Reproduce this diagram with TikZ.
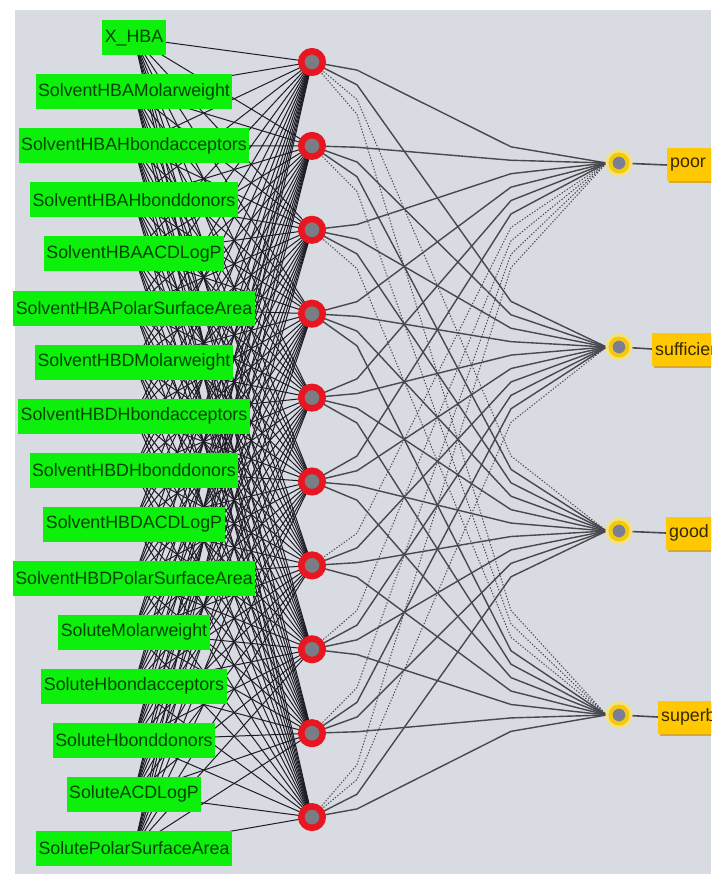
\documentclass[tikz,border=0pt]{standalone}
\usepackage{fontspec}
\setmainfont{Liberation Sans}
\definecolor{bgc}{RGB}{217,219,226}
\definecolor{ingreen}{RGB}{12,240,12}
\definecolor{intext}{RGB}{0,66,0}
\definecolor{hidred}{RGB}{232,22,32}
\definecolor{hidgray}{RGB}{122,126,132}
\definecolor{outyel}{RGB}{245,200,10}
\definecolor{outglow}{RGB}{242,226,130}
\definecolor{outgray}{RGB}{122,128,148}
\definecolor{outbox}{RGB}{255,200,0}
\definecolor{outshadow}{RGB}{215,170,40}
\definecolor{outtext}{RGB}{55,40,0}
\definecolor{ihcol}{RGB}{30,28,36}
\definecolor{hocol}{RGB}{72,72,78}
\pgfdeclarelayer{bglayer}
\pgfdeclarelayer{edges}
\pgfsetlayers{bglayer,edges,main}
\newcommand\holine[3]{%
  \pgfmathsetmacro\yh{62+83.9*(#2-1)}%
  \pgfmathsetmacro\yo{163+184*(#3-1)}%
  \pgfmathsetmacro\ya{\yh+0.08*(\yo-\yh)}%
  \pgfmathsetmacro\yb{\yh+0.84*(\yo-\yh)}%
  \draw[#1] (h#2.center) -- (357,\ya) -- (511,\yb) -- (o#3.west);%
}
\begin{document}
\begin{tikzpicture}[x=1pt,y=-1pt,
  inbox/.style={fill=ingreen, text=intext, font=\fontsize{17.8}{18}\selectfont,
    minimum height=35pt, inner xsep=2.5pt, inner ysep=0pt},
  hid/.style={circle, fill=hidgray, draw=hidred, line width=6.5pt,
    minimum size=21.5pt, inner sep=0pt, outer sep=3pt},
  outn/.style={circle, fill=outgray, draw=outyel, line width=4pt,
    preaction={draw=outglow, line width=10pt},
    minimum size=17pt, inner sep=0pt, outer sep=4pt},
  outlab/.style={fill=outbox, text=outtext, font=\fontsize{17.8}{18}\selectfont,
    minimum height=33pt, text width=90pt, align=left, inner xsep=3pt,
    inner ysep=0pt, anchor=west,
    preaction={fill=outshadow, transform canvas={shift={(1.5pt,-2pt)}}}},
  ihe/.style={draw=ihcol, line width=1pt},
  hoe/.style={draw=hocol, line width=1.4pt},
  hod/.style={draw=hocol, line width=1pt, dash pattern=on 1.3pt off 1.7pt},
  oconn/.style={draw=hocol, line width=1.6pt}]
\useasboundingbox (0,0) rectangle (711,874);
\clip (0,0) rectangle (711,874);
\begin{pgfonlayer}{bglayer}
\fill[bgc] (15,10) rectangle (711,874);
\end{pgfonlayer}
% input nodes
\foreach \lab [count=\i] in {X\_HBA, SolventHBAMolarweight, SolventHBAHbondacceptors,
  SolventHBAHbonddonors, SolventHBAACDLogP, SolventHBAPolarSurfaceArea,
  SolventHBDMolarweight, SolventHBDHbondacceptors, SolventHBDHbonddonors,
  SolventHBDACDLogP, SolventHBDPolarSurfaceArea, SoluteMolarweight,
  SoluteHbondacceptors, SoluteHbonddonors, SoluteACDLogP, SolutePolarSurfaceArea}
  \node[inbox] (in\i) at (134,{38+54*(\i-1)}) {\lab};
% hidden nodes
\foreach \j in {1,...,10}
  \node[hid] (h\j) at (312,{62+83.9*(\j-1)}) {};
% output nodes and labels
\foreach \k/\lab/\lx in {1/poor/667, 2/sufficient/652, 3/good/666, 4/superb/658} {
  \node[outn] (o\k) at (619,{163+184*(\k-1)}) {};
  \node[outlab] (lab\k) at (\lx,{165+184*(\k-1)}) {\lab};
  \begin{pgfonlayer}{edges}
    \draw[oconn] (o\k) -- (lab\k.west);
  \end{pgfonlayer}
}
\begin{pgfonlayer}{edges}
% input -> hidden
\foreach \i in {1,...,16}
  \foreach \j in {1,...,10}
    \draw[ihe] (in\i.center) -- (h\j.center);
% hidden -> output
\foreach \j/\k in {1/1,1/2,2/1,2/2,2/3,3/1,3/2,3/3,
  4/1,4/2,4/3,4/4,5/1,5/2,5/3,5/4,6/1,6/2,6/3,6/4,
  7/2,7/3,7/4,8/2,8/3,8/4,9/2,9/3,9/4,10/3,10/4}
  {\holine{hoe}{\j}{\k}}
\foreach \j/\k in {1/3,1/4,2/4,3/4,7/1,8/1,9/1,10/1,10/2}
  {\holine{hod}{\j}{\k}}
\end{pgfonlayer}
\end{tikzpicture}
\end{document}
